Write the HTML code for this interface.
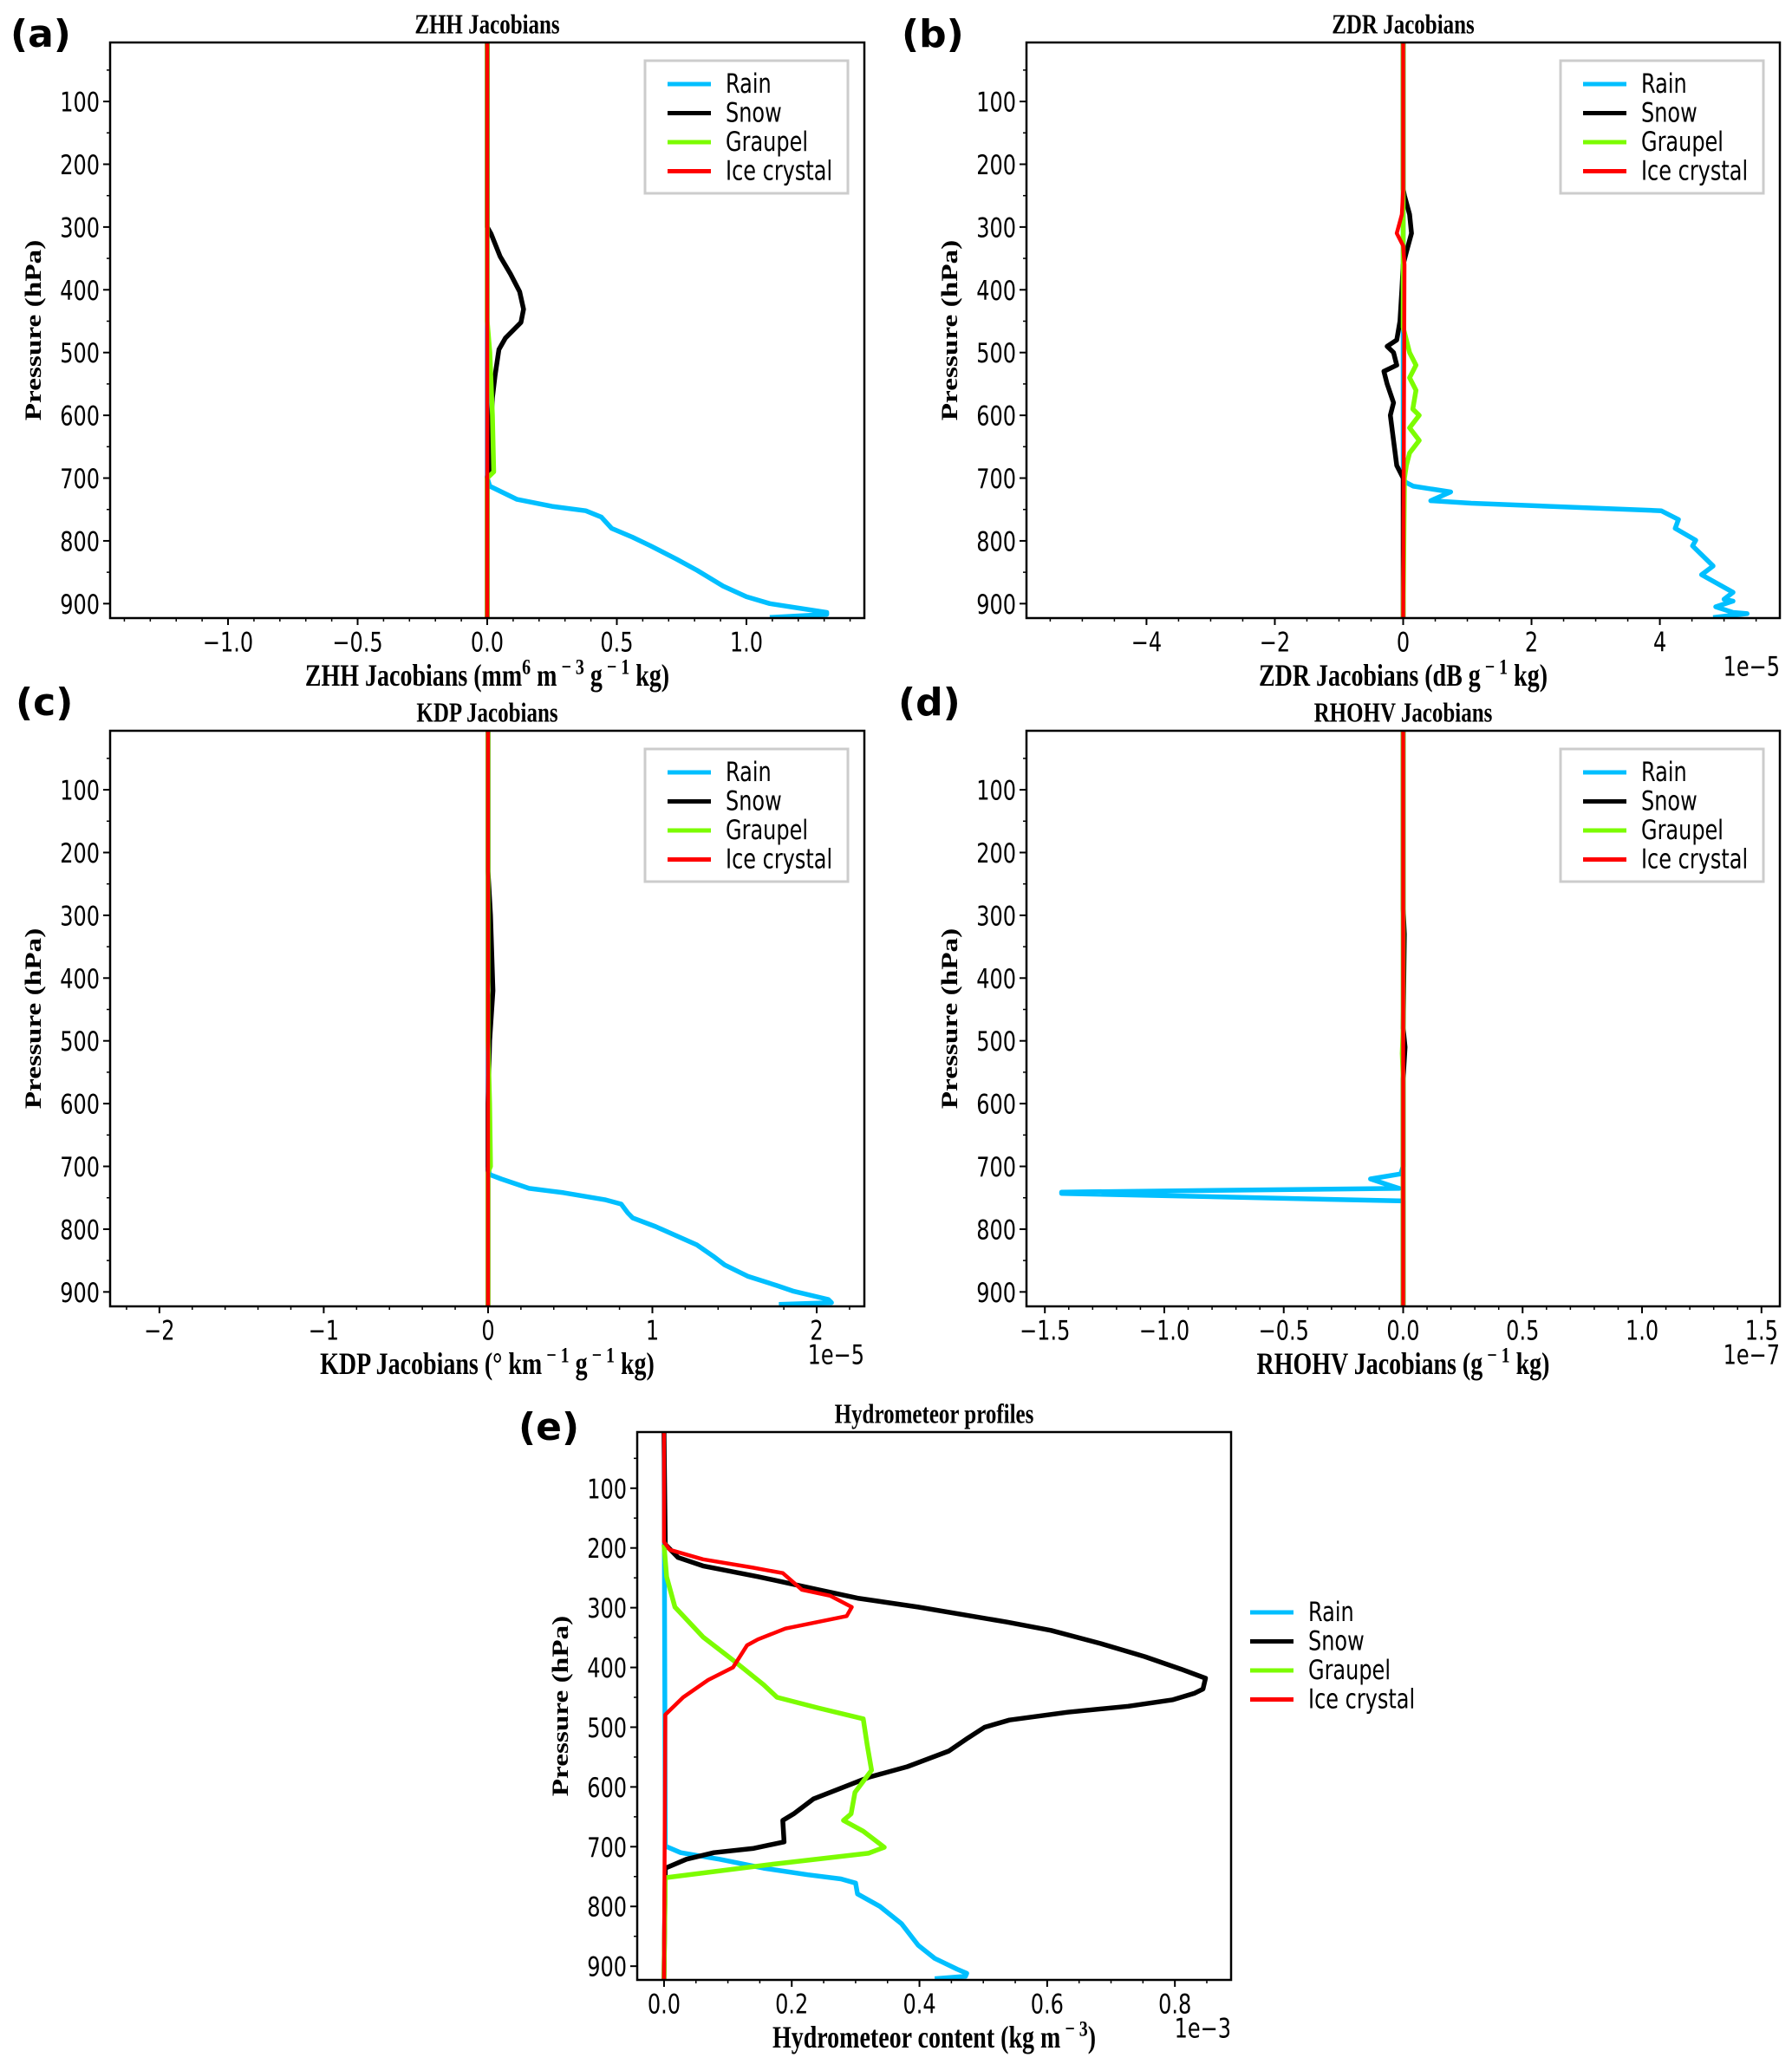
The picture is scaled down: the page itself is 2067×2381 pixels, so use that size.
<!DOCTYPE html>
<html><head><meta charset="utf-8">
<style>
html,body{margin:0;padding:0;background:#fff;}
svg{display:block;}
.tk{font-family:"DejaVu Sans","Liberation Sans",sans-serif;font-size:24px;fill:#000;}
.ax{font-family:"Liberation Serif",serif;font-weight:bold;font-size:28px;fill:#000;}
.ay{font-family:"Liberation Serif",serif;font-weight:bold;font-size:26px;fill:#000;}
.tt{font-family:"Liberation Serif",serif;font-weight:bold;font-size:25px;fill:#000;}
.pl{font-family:"DejaVu Sans","Liberation Sans",sans-serif;font-weight:bold;font-size:44px;fill:#000;}
.lg{font-family:"DejaVu Sans","Liberation Sans",sans-serif;font-size:24px;fill:#000;}
</style></head>
<body>
<svg id="fig" width="2067" height="2381" viewBox="0 0 2067 2381" xmlns="http://www.w3.org/2000/svg"></svg>
<script>
// ---------- DATA (pressure in hPa, values in plotted axis units) ----------
// Panel (a) ZHH
const aRainP = [6,700,713,734,745,752,762,780,794,808,829,847,872,889,900,914,917,922];
const aRainX = [0,0,0.01,0.115,0.25,0.38,0.44,0.48,0.56,0.63,0.73,0.81,0.91,1.0,1.09,1.31,1.31,1.09];
const aSnowP = [6,300,311,347,375,403,431,452,477,495,537,572,643,685,699,923];
const aSnowX = [0,0,0.015,0.05,0.09,0.125,0.14,0.13,0.07,0.045,0.03,0.02,0.01,0.01,0,0];
const aGrauP = [6,450,500,600,690,700,923];
const aGrauX = [0,0,0.01,0.02,0.025,0,0];
const aIceP = [6,923];
const aIceX = [0,0];
// Panel (b) ZDR (x1e-5)
const bRainP = [6,700,706,713,722,736,740,752,766,780,799,808,822,840,854,882,893,896,905,914,916,922];
const bRainX = [0,0,0.03,0.16,0.74,0.43,1.06,4.02,4.29,4.24,4.56,4.51,4.65,4.83,4.65,5.14,5.0,5.14,4.87,5.14,5.36,4.83];
const bSnowP = [6,240,250,280,310,340,360,400,450,480,490,500,520,530,550,580,600,640,680,700,923];
const bSnowX = [0,0,0.02,0.1,0.13,0.05,0,-0.02,-0.05,-0.1,-0.25,-0.15,-0.1,-0.3,-0.25,-0.15,-0.2,-0.15,-0.1,0,0];
const bGrauP = [6,460,480,500,520,540,560,590,600,620,640,660,680,700,923];
const bGrauX = [0,0,0.05,0.1,0.2,0.1,0.2,0.15,0.25,0.1,0.25,0.1,0.05,0.02,0];
const bIceP = [6,240,280,310,330,360,923];
const bIceX = [0,0,-0.02,-0.1,0,0.02,0];
// Panel (c) KDP (x1e-5)
const cRainP = [6,700,713,720,735,742,753,760,774,782,796,825,843,857,875,890,899,912,917,920];
const cRainX = [0,0,0.01,0.08,0.25,0.46,0.71,0.81,0.85,0.88,1.02,1.27,1.37,1.44,1.58,1.76,1.86,2.07,2.09,1.77];
const cSnowP = [6,230,300,420,500,600,923];
const cSnowX = [0,0,0.015,0.03,0.01,0,0];
const cGrauP = [6,500,600,700,710,923];
const cGrauX = [0,0,0.01,0.015,0,0];
const cIceP = [6,923];
const cIceX = [0,0];
// Panel (d) RHOHV (x1e-7)
const dRainP = [6,700,712,720,731,735,741,743,755,923];
const dRainX = [0,0,-0.01,-0.137,-0.05,-0.017,-1.43,-1.43,0,0];
const dSnowP = [6,290,330,480,510,560,923];
const dSnowX = [0,0,0.005,0,0.008,0,0];
const dGrauP = [6,480,520,560,923];
const dGrauX = [0,0,-0.004,0,0];
const dIceP = [6,923];
const dIceX = [0,0];
// Panel (e) Hydrometeor content (x1e-3)
const eRainP = [6,699,710,721,736,747,754,761,779,800,829,865,887,905,912,917,921];
const eRainX = [0,0.002,0.026,0.087,0.156,0.225,0.277,0.3,0.303,0.338,0.372,0.398,0.424,0.459,0.474,0.472,0.424];
const eSnowP = [6,194,216,230,248,270,284,299,324,338,360,382,403,418,436,443,454,465,475,488,500,518,540,566,584,602,620,645,656,692,703,710,721,736,923];
const eSnowX = [0,0.002,0.022,0.061,0.147,0.242,0.303,0.398,0.537,0.606,0.684,0.753,0.81,0.848,0.844,0.831,0.797,0.727,0.632,0.541,0.502,0.476,0.446,0.381,0.32,0.277,0.234,0.203,0.186,0.188,0.139,0.078,0.035,0.002,0];
const eGrauP = [194,248,299,349,392,429,450,468,486,529,572,609,645,656,674,701,711,730,752,923];
const eGrauX = [0,0.004,0.017,0.061,0.113,0.156,0.177,0.242,0.312,0.318,0.325,0.299,0.293,0.281,0.312,0.345,0.32,0.165,0.002,0];
const eIceP = [6,190,203,219,233,242,270,280,299,314,335,353,363,400,421,450,479,923];
const eIceX = [0,0,0.009,0.061,0.139,0.186,0.216,0.26,0.294,0.286,0.19,0.147,0.13,0.108,0.069,0.03,0.002,0];

const yTicks = [100,200,300,400,500,600,700,800,900];
const yMinor = [50,150,250,350,450,550,650,750,850];
const seriesNames = ['Rain','Snow','Graupel','Ice crystal'];
const seriesColors = ['#00bfff','#000000','#7cfc00','#ff0000'];
const aXTicks = [-1.0,-0.5,0.0,0.5,1.0];
const aXLabels = ['\u22121.0','\u22120.5','0.0','0.5','1.0'];
const bXTicks = [-4,-2,0,2,4];
const bXLabels = ['\u22124','\u22122','0','2','4'];
const cXTicks = [-2,-1,0,1,2];
const cXLabels = ['\u22122','\u22121','0','1','2'];
const dXTicks = [-1.5,-1.0,-0.5,0.0,0.5,1.0,1.5];
const dXLabels = ['\u22121.5','\u22121.0','\u22120.5','0.0','0.5','1.0','1.5'];
const eXTicks = [0,0.2,0.4,0.6,0.8];
const eXLabels = ['0.0','0.2','0.4','0.6','0.8'];

// ---------- DRAW ----------
const NS='http://www.w3.org/2000/svg';
const svg=document.getElementById('fig');
const K=1.28; // vertical stretch of text in the reference
function mk(tag,attrs,parent){const e=document.createElementNS(NS,tag);for(const k in attrs)e.setAttribute(k,attrs[k]);(parent||svg).appendChild(e);return e;}
function st(el,cx,cy){el.setAttribute('transform','translate('+cx+' '+cy+') scale(1 '+K+') translate('+(-cx)+' '+(-cy)+')');}

const panels=[
 {id:'a',L:127,R:997,T:49,B:713,x0:-1.455,x1:1.455,minor:0.1,xt:aXTicks,xl:aXLabels,
  data:[[aRainP,aRainX],[aSnowP,aSnowX],[aGrauP,aGrauX],[aIceP,aIceX]],
  title:'ZHH Jacobians',xlab:[['ZHH  Jacobians (mm',0],['6',1],[' m',0],[' \u2212 3',1],[' g',0],[' \u2212 1',1],[' kg)',0]],
  off:null,lab:'(a)',labX:12,labY:54,legend:'in'},
 {id:'b',L:1184,R:2053,T:49,B:713,x0:-5.87,x1:5.87,minor:0.5,xt:bXTicks,xl:bXLabels,
  data:[[bRainP,bRainX],[bSnowP,bSnowX],[bGrauP,bGrauX],[bIceP,bIceX]],
  title:'ZDR Jacobians',xlab:[['ZDR  Jacobians (dB g',0],[' \u2212 1',1],[' kg)',0]],
  off:'1e\u22125',lab:'(b)',labX:1040,labY:54,legend:'in'},
 {id:'c',L:127,R:997,T:843,B:1507,x0:-2.30,x1:2.29,minor:0.2,xt:cXTicks,xl:cXLabels,
  data:[[cRainP,cRainX],[cSnowP,cSnowX],[cGrauP,cGrauX],[cIceP,cIceX]],
  title:'KDP Jacobians',xlab:[['KDP  Jacobians (\u00B0 km',0],[' \u2212 1',1],[' g',0],[' \u2212 1',1],[' kg)',0]],
  off:'1e\u22125',lab:'(c)',labX:18,labY:825,legend:'in'},
 {id:'d',L:1184,R:2053,T:843,B:1507,x0:-1.577,x1:1.577,minor:0.1,xt:dXTicks,xl:dXLabels,
  data:[[dRainP,dRainX],[dSnowP,dSnowX],[dGrauP,dGrauX],[dIceP,dIceX]],
  title:'RHOHV Jacobians',xlab:[['RHOHV  Jacobians (g',0],[' \u2212 1',1],[' kg)',0]],
  off:'1e\u22127',lab:'(d)',labX:1036,labY:825,legend:'in'},
 {id:'e',L:735,R:1420,T:1652,B:2284,x0:-0.042,x1:0.888,minor:0.05,xt:eXTicks,xl:eXLabels,
  data:[[eRainP,eRainX],[eSnowP,eSnowX],[eGrauP,eGrauX],[eIceP,eIceX]],
  title:'Hydrometeor profiles',xlab:[['Hydrometeor content (kg m',0],[' \u2212 3',1],[')',0]],
  off:'1e\u22123',lab:'(e)',labX:598,labY:1661,legend:'out'}
];
const P0=6,P1=923;

panels.forEach(p=>{
  const g=mk('g',{});
  
  
  const sx=v=>p.L+(v-p.x0)/(p.x1-p.x0)*(p.R-p.L);
  const sy=v=>p.T+(v-P0)/(P1-P0)*(p.B-p.T);
  const clipId='clip'+p.id;
  const cp=mk('clipPath',{id:clipId},g);mk('rect',{x:p.L,y:p.T,width:p.R-p.L,height:p.B-p.T},cp);
  [0,1,2,3].forEach(i=>{
    const [P,X]=p.data[i];
    const pts=P.map((pp,k)=>sx(X[k]).toFixed(1)+','+sy(pp).toFixed(1)).join(' ');
    const pl=mk('polyline',{points:pts,fill:'none',stroke:seriesColors[i],'stroke-width':i===3?4.5:5.5,'stroke-linejoin':'round','clip-path':'url(#'+clipId+')'},g);
    
    
  });
  const fr=mk('rect',{x:p.L,y:p.T,width:p.R-p.L,height:p.B-p.T,fill:'none',stroke:'#000','stroke-width':2.5},g);
  
  
  yTicks.forEach(t=>{
    const y=sy(t);
    mk('line',{x1:p.L-8,x2:p.L,y1:y,y2:y,stroke:'#000','stroke-width':2},g);
    const tx=mk('text',{x:p.L-12,y:y+9,'text-anchor':'end',class:'tk'},g);tx.textContent=t;
    st(tx,p.L-12,y);
    
    
  });
  yMinor.forEach(t=>{const y=sy(t);mk('line',{x1:p.L-4,x2:p.L,y1:y,y2:y,stroke:'#000','stroke-width':1.5},g);});
  const n0=Math.ceil(p.x0/p.minor-1e-6),n1=Math.floor(p.x1/p.minor+1e-6);
  for(let n=n0;n<=n1;n++){const x=sx(n*p.minor);mk('line',{x1:x,x2:x,y1:p.B,y2:p.B+4,stroke:'#000','stroke-width':1.5},g);}
  p.xt.forEach((t,k)=>{
    const x=sx(t);
    mk('line',{x1:x,x2:x,y1:p.B,y2:p.B+8,stroke:'#000','stroke-width':2},g);
    const tx=mk('text',{x:x,y:p.B+36,'text-anchor':'middle',class:'tk'},g);tx.textContent=p.xl[k];
    st(tx,x,p.B+27);
    
    
  });
  const tt=mk('text',{x:(p.L+p.R)/2,y:p.T-13,'text-anchor':'middle',class:'tt'},g);tt.textContent=p.title;
  st(tt,(p.L+p.R)/2,p.T-22);
  
  
  const xl=mk('text',{x:(p.L+p.R)/2,y:p.B+75,'text-anchor':'middle',class:'ax'},g);
  st(xl,(p.L+p.R)/2,p.B+65);
  
  
  p.xlab.forEach(([s,sup])=>{const ts=mk('tspan',sup?{'font-size':'20'}:{},xl);ts.textContent=s;
    if(sup){ts.setAttribute('baseline-shift','super');}});
  const yx=p.L-80,ymid=(p.T+p.B)/2;
  const yl=mk('text',{x:yx,y:ymid,'text-anchor':'middle',class:'ay',transform:'rotate(-90 '+yx+' '+ymid+') translate('+yx+' '+ymid+') scale('+K+' 1) translate('+(-yx)+' '+(-ymid)+')'},g);
  yl.textContent='Pressure (hPa)';
  
  
  if(p.off){const o=mk('text',{x:p.R,y:p.B+64,'text-anchor':'end',class:'tk'},g);o.textContent=p.off;
    st(o,p.R,p.B+55);
    
    }
  const lb=mk('text',{x:p.labX,y:p.labY,class:'pl'},g);lb.textContent=p.lab;
  
  
  const lg=mk('g',{},g);
  
  
  let lx,ly;
  if(p.legend==='in'){
    const bx=p.R-253,by=p.T+21;
    mk('rect',{x:bx,y:by,width:234,height:153,fill:'#fff',stroke:'#cccccc','stroke-width':3},lg);
    lx=bx+26;ly=p.T+48;
  } else {lx=1442;ly=1860;}
  seriesNames.forEach((nm,i)=>{
    const y=ly+i*33.5;
    mk('line',{x1:lx,x2:lx+50,y1:y,y2:y,stroke:seriesColors[i],'stroke-width':5},lg);
    const t=mk('text',{x:lx+67,y:y+8,class:'lg'},lg);t.textContent=nm;
    st(t,lx+67,y);
    
    
  });
});
</script>
</body></html>
